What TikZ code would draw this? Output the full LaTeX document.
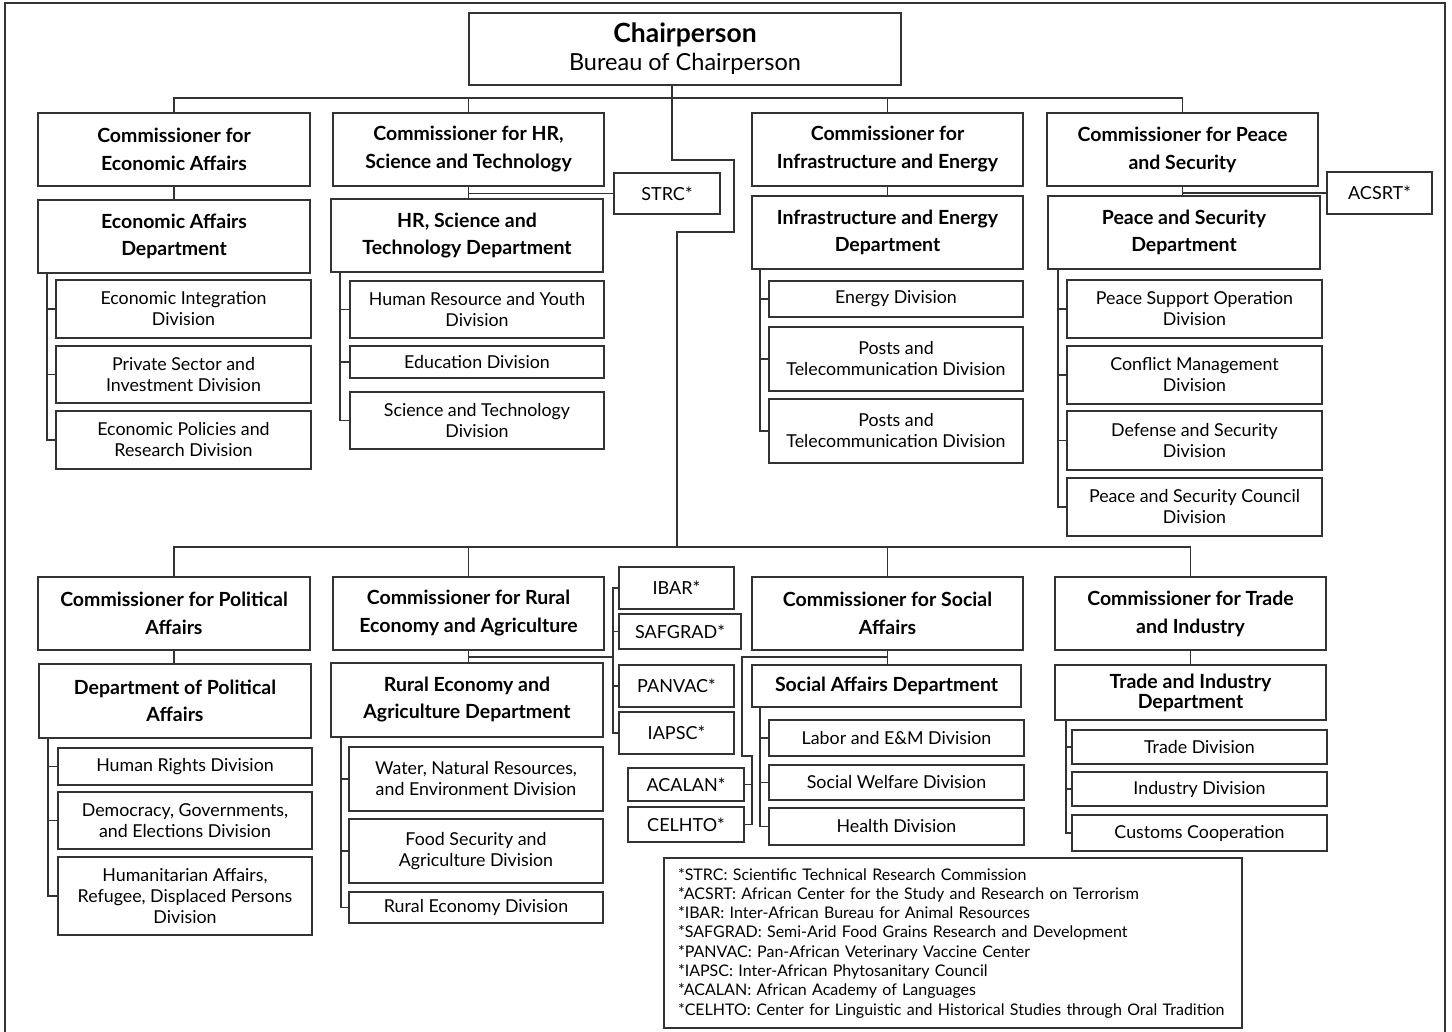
\documentclass[tikz,border=0pt]{standalone}
\usepackage{fontspec}
\setmainfont{Lato}
\begin{document}
\begin{tikzpicture}[x=1pt,y=-1pt,
	box/.style={draw=black!80,line width=1.3pt,inner sep=2pt,align=center},
	wh/.style 2 args={minimum width=#1pt,minimum height=#2pt},
	chief/.style={box,font=\fontsize{23.5}{28}\selectfont},
	comm/.style={box,font=\fontsize{19.5}{28}\selectfont\bfseries},
	dept/.style={box,font=\fontsize{19.5}{27}\selectfont\bfseries},
	divn/.style={box,font=\fontsize{17.8}{21}\selectfont},
	abbr/.style={box,font=\fontsize{18}{20}\selectfont},
	link/.style={draw=black!80,line width=1.3pt}]
	\useasboundingbox (0,0) rectangle (1452,1032);
	\fill [white] (0,0) rectangle (1452,1032);
	\draw [link] (5,1032)--(5,3)--(1445,3)--(1445,1032);
	%chairperson
	\node [chief,wh={432}{72}] (chair) at (685,49) {{\fontsize{26.5}{28}\selectfont\bfseries Chairperson}\\Bureau of Chairperson};
	%upper row
	\node [comm,wh={272}{73}] (ecoC) at (174,149.5) {Commissioner for\\Economic Affairs};
	\node [dept,wh={272}{73}] (ecoD) at (174,236.5) {Economic Affairs\\Department};
	\node [divn,wh={255}{58}] (eco1) at (183.5,309) {Economic Integration\\Division};
	\node [divn,wh={255}{57}] (eco2) at (183.5,374.5) {Private Sector and\\Investment Division};
	\node [divn,wh={255}{58}] (eco3) at (183.5,440) {Economic Policies and\\Research Division};
	\node [comm,wh={271}{73}] (hrC) at (468.5,149.5) {Commissioner for HR,\\Science and Technology};
	\node [dept,wh={272}{73}] (hrD) at (467,235.5) {HR, Science and\\Technology Department};
	\node [divn,wh={254}{57}] (hr1) at (477,309.5) {Human Resource and Youth\\Division};
	\node [divn,wh={254}{32}] (hr2) at (477,362) {Education Division};
	\node [divn,wh={254}{57}] (hr3) at (477,420.5) {Science and Technology\\Division};
	\node [abbr,wh={106}{41}] (strc) at (667,193.5) {STRC*};
	\node [comm,wh={271}{73}] (infC) at (887.5,149.5) {Commissioner for\\Infrastructure and Energy};
	\node [dept,wh={271}{73}] (infD) at (887.5,232.5) {Infrastructure and Energy\\Department};
	\node [divn,wh={254}{36}] (inf1) at (896,299) {Energy Division};
	\node [divn,wh={254}{64}] (inf2) at (896,359) {Posts and\\Telecommunication Division};
	\node [divn,wh={254}{64}] (inf3) at (896,431) {Posts and\\Telecommunication Division};
	\node [comm,wh={271}{73}] (psC) at (1182.5,149.5) {Commissioner for Peace\\and Security};
	\node [dept,wh={272}{73}] (psD) at (1184,232.5) {Peace and Security\\Department};
	\node [divn,wh={255}{58}] (ps1) at (1194.5,309) {Peace Support Operation\\Division};
	\node [divn,wh={255}{58}] (ps2) at (1194.5,375) {Conflict Management\\Division};
	\node [divn,wh={255}{59}] (ps3) at (1194.5,440.5) {Defense and Security\\Division};
	\node [divn,wh={255}{58}] (ps4) at (1194.5,507) {Peace and Security Council\\Division};
	\node [abbr,wh={105}{42}] (acsrt) at (1379.5,193) {ACSRT*};
	%lower row
	\node [comm,wh={272}{73}] (polC) at (174,613.5) {Commissioner for Political\\Affairs};
	\node [dept,wh={272}{74}] (polD) at (175,701) {Department of Political\\Affairs};
	\node [divn,wh={254}{37}] (pol1) at (185,766.5) {Human Rights Division};
	\node [divn,wh={254}{57}] (pol2) at (185,820.5) {Democracy, Governments,\\and Elections Division};
	\node [divn,wh={254}{78}] (pol3) at (185,896) {Humanitarian Affairs,\\Refugee, Displaced Persons\\Division};
	\node [comm,wh={271}{73}] (reaC) at (468.5,613.5) {Commissioner for Rural\\Economy and Agriculture};
	\node [dept,wh={272}{74}] (reaD) at (467,700) {Rural Economy and\\Agriculture Department};
	\node [divn,wh={254}{64}] (rea1) at (476,779) {Water, Natural Resources,\\and Environment Division};
	\node [divn,wh={254}{64}] (rea2) at (476,851) {Food Security and\\Agriculture Division};
	\node [divn,wh={254}{31}] (rea3) at (476,907.5) {Rural Economy Division};
	\node [abbr,wh={115}{42}] (ibar) at (676.5,588) {IBAR*};
	\node [abbr,wh={122}{35}] (safgrad) at (680,631.5) {SAFGRAD*};
	\node [abbr,wh={115}{42}] (panvac) at (676.5,686) {PANVAC*};
	\node [abbr,wh={115}{42}] (iapsc) at (676.5,733) {IAPSC*};
	\node [abbr,wh={116}{33}] (acalan) at (686,784.5) {ACALAN*};
	\node [abbr,wh={116}{35}] (celhto) at (686,824.5) {CELHTO*};
	\node [comm,wh={271}{73}] (saC) at (887.5,613.5) {Commissioner for Social\\Affairs};
	\node [dept,wh={269}{42}] (saD) at (886.5,686) {Social Affairs Department};
	\node [divn,wh={255}{36}] (sa1) at (896.5,738) {Labor and E\&M Division};
	\node [divn,wh={255}{35}] (sa2) at (896.5,782.5) {Social Welfare Division};
	\node [divn,wh={255}{37}] (sa3) at (896.5,826.5) {Health Division};
	\node [comm,wh={271}{73}] (tiC) at (1190.5,613.5) {Commissioner for Trade\\and Industry};
	\node [dept,wh={271}{55},font=\fontsize{19.5}{20}\selectfont\bfseries] (tiD) at (1190.5,692.5) {Trade and Industry\\Department};
	\node [divn,wh={255}{34}] (ti1) at (1199.5,747) {Trade Division};
	\node [divn,wh={255}{34}] (ti2) at (1199.5,789) {Industry Division};
	\node [divn,wh={255}{36}] (ti3) at (1199.5,833) {Customs Cooperation};
	%key
	\node [box,minimum height=170pt,text width=550pt,inner xsep=14pt,align=left,
		font=\fontsize{16}{19.3}\selectfont] (key) at (953,943)
		{*STRC: Scientific Technical Research Commission\\{}%
		*ACSRT: African Center for the Study and Research on Terrorism\\{}%
		*IBAR: Inter-African Bureau for Animal Resources\\{}%
		*SAFGRAD: Semi-Arid Food Grains Research and Development\\{}%
		*PANVAC: Pan-African Veterinary Vaccine Center\\{}%
		*IAPSC: Inter-African Phytosanitary Council\\{}%
		*ACALAN: African Academy of Languages\\{}%
		*CELHTO: Center for Linguistic and Historical Studies through Oral Tradition};
	%buses and trunk
	\coordinate (topbus) at (0,98);
	\coordinate (lowbus) at (0,547);
	\coordinate (trunk) at (672,0);
	\draw [link] (ecoC.north)--(ecoC.north |- topbus)--(psC.north |- topbus)--(psC.north);
	\draw [link] (hrC.north)--(hrC.north |- topbus);
	\draw [link] (infC.north)--(infC.north |- topbus);
	\draw [link] (chair.south -| trunk) |- (734,160) |- (677,232)--(677,547);
	\draw [link] (polC.north)--(polC.north |- lowbus)--(tiC.north |- lowbus)--(tiC.north);
	\draw [link] (reaC.north)--(reaC.north |- lowbus);
	\draw [link] (saC.north)--(saC.north |- lowbus);
	%commissioner to department
	\draw [link] (ecoC)--(ecoD);
	\draw [link] (hrC.south)--(hrC.south |- hrD.north);
	\draw [link] (infC)--(infD);
	\draw [link] (psC.south)--(psC.south |- psD.north);
	\draw [link] (polC.south)--(polC.south |- polD.north);
	\draw [link] (reaC.south)--(reaC.south |- reaD.north);
	\draw [link] (saC.south)--(saC.south |- saD.north);
	\draw [link] (tiC)--(tiD);
	\draw [link] (hrC.south |- strc.west)--(strc.west);
	\draw [link] (psC.south |- acsrt.west)--(acsrt.west);
	%divisions
	\foreach \g/\x/\n in {eco/47/3,hr/340/3,inf/760/3,ps/1058/4,pol/48/3,rea/341/3,sa/760/3,ti/1066/3}{
		\coordinate (brk) at (\x,0);
		\draw [link] (brk |- \g D.south) |- (\g\n.west);
		\foreach \i in {1,...,\n} \draw [link] (\g\i.west)--(\g\i.west -| brk);
	}
	%centres
	\coordinate (reaR) at (613,657);
	\draw [link] (reaC.south |- reaR)--(reaR);
	\draw [link] (ibar.west) -| (reaR) |- (iapsc.west);
	\draw [link] (safgrad.west)--(safgrad.west -| reaR);
	\draw [link] (panvac.west)--(panvac.west -| reaR);
	\coordinate (saL) at (742,657);
	\coordinate (saK) at (752,756);
	\draw [link] (saC.south |- saL)--(saL) |- (saK) |- (celhto.east);
	\draw [link] (acalan.east)--(acalan.east -| saK);
\end{tikzpicture}
\end{document}
